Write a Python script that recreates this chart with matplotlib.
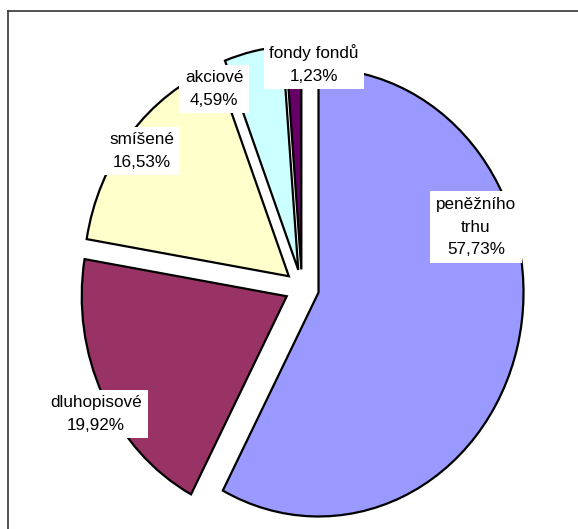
import matplotlib.pyplot as plt
from matplotlib.lines import Line2D

# fund types and their share (%)
labels = ['peněžního\ntrhu', 'dluhopisové', 'smíšené', 'akciové', 'fondy fondů']
shares = [57.73, 19.92, 16.53, 4.59, 1.23]
colors = ['#9999FF', '#993366', '#FFFFCC', '#CCFFFF', '#660066']

plt.rcParams['font.family'] = ['Liberation Sans', 'DejaVu Sans']

W, H = 578, 529
fig = plt.figure(figsize=(W / 100, H / 100), dpi=100)
ax = fig.add_axes([0, 0, 1, 1])

wedges, _ = ax.pie(shares, colors=colors, startangle=90, counterclock=False,
                   explode=[0.083] * len(shares), radius=1,
                   wedgeprops=dict(edgecolor='black', linewidth=1.6))

# pie centre and radii in pixels (pie is slightly squashed horizontally)
cx, cy, rx, ry = 302, 288, 205, 224
ax.set_aspect('auto')
ax.set_xlim(-cx / rx, (W - cx) / rx)
ax.set_ylim(-(H - cy) / ry, cy / ry)
ax.axis('off')

# label centres in pixel coords (x, y from top)
label_pos = [(476, 227), (96, 414), (142, 151), (214, 89), (314, 64)]
for lab, val, (px, py) in zip(labels, shares, label_pos):
    txt = lab + '\n' + f'{val:.2f}'.replace('.', ',') + '%'
    fig.text(px / W, 1 - py / H, txt, ha='center', va='center', fontsize=12.3,
             linespacing=1.63,
             bbox=dict(facecolor='white', edgecolor='none', pad=4))

# chart area frame (left and top only are visible)
fig.add_artist(Line2D([8 / W, 8 / W], [0, 1 - 11 / H], transform=fig.transFigure,
                      color='#333333', linewidth=1.2))
fig.add_artist(Line2D([8 / W, 1], [1 - 11 / H, 1 - 11 / H], transform=fig.transFigure,
                      color='#333333', linewidth=1.2))

fig.savefig('out.png', dpi=100)
